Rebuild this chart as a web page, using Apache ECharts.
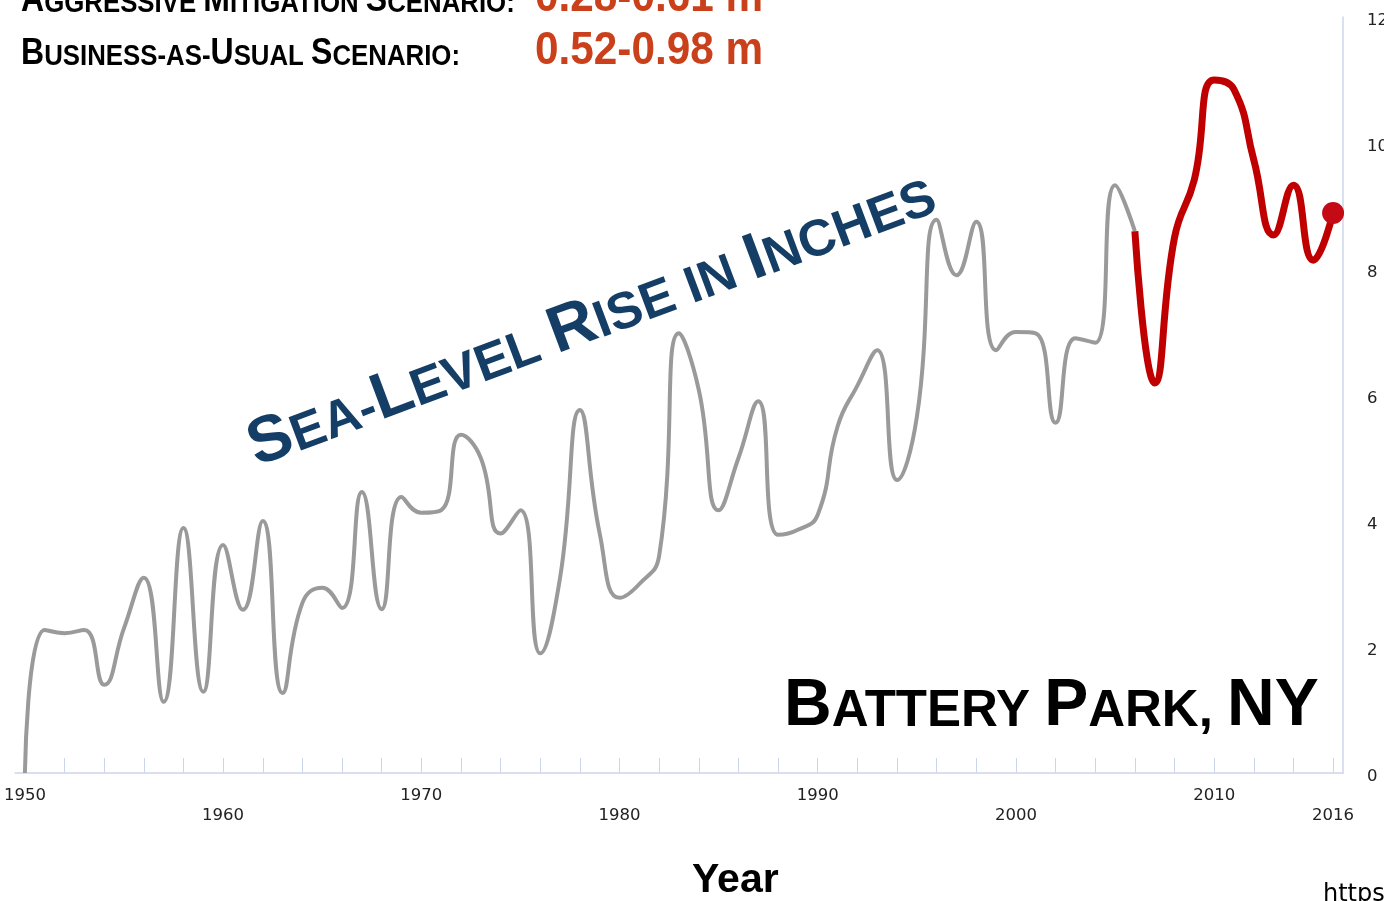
<!DOCTYPE html>
<html><head><meta charset="utf-8">
<script src="https://cdn.jsdelivr.net/npm/echarts@6/dist/echarts.min.js"></script>
<style>html,body{margin:0;padding:0;background:#fff;overflow:hidden}#chart{width:1384px;height:901px;}</style>
</head><body><div id="chart"></div>
<script>
// ---- data ----
const observedYears = [1950,1951,1952,1953,1954,1955,1956,1957,1958,1959,1960,1961,1962,1963,1964,1965,1966,1967,1968,1969,1970,1971,1972,1973,1974,1975,1976,1977,1978,1979,1980,1981,1982,1983,1984,1985,1986,1987,1988,1989,1990,1991,1992,1993,1994,1995,1996,1997,1998,1999,2000,2001,2002,2003,2004,2005,2006];
const observedInches = [0,2.27,2.22,2.27,1.4,2.3,3.1,1.13,3.89,1.29,3.62,2.59,4.0,1.27,2.7,2.94,2.62,4.46,2.6,4.38,4.13,4.17,5.37,5.0,3.8,4.17,1.9,3.1,5.76,3.8,2.78,3.0,3.45,6.98,6.08,4.17,5.0,5.9,3.78,3.86,4.1,5.5,6.15,6.71,4.65,5.65,8.78,7.9,8.75,6.71,7.0,6.98,5.56,6.9,6.83,9.33,8.6];
const recentYears = [2006,2007,2008,2009,2010,2011,2012,2013,2014,2015,2016];
const recentInches = [8.6,6.19,8.5,9.42,11.0,10.85,9.73,8.54,9.33,8.14,8.89];
const tickYears = [1950,1952,1954,1956,1958,1960,1962,1964,1966,1968,1970,1972,1974,1976,1978,1980,1982,1984,1986,1988,1990,1992,1994,1996,1998,2000,2002,2004,2006,2008,2010,2012,2014,2016];
const labelYears = [1950,1960,1970,1980,1990,2000,2010,2016];
const lowerRowYears = [1960,1980,2000,2016];
const scenarioNames = ['Aggressive Mitigation Scenario:', 'Business-as-Usual Scenario:'];
const scenarioRanges = ['0.28-0.61 m', '0.52-0.98 m'];
const chartTitle = 'Sea-Level Rise in Inches';
const placeName = 'Battery Park, NY';
const xAxisName = 'Year';
const sourceText = 'https://';

// ---- helpers ----
function smallCaps(str) {
  let out = '', cur = null, buf = '';
  for (const ch of str) {
    const t = (ch >= 'A' && ch <= 'Z') ? 'b' : 's';
    if (t !== cur) { if (buf) out += '{' + cur + '|' + buf + '}'; buf = ''; cur = t; }
    buf += ch.toUpperCase();
  }
  if (buf) out += '{' + cur + '|' + buf + '}';
  return out;
}
function scRich(B, s, fill) {
  const fam = '"Liberation Sans", Arial, sans-serif';
  return {
    b: { fontSize: B, fontWeight: 'bold', fontFamily: fam, fill: fill, verticalAlign: 'bottom' },
    s: { fontSize: s, fontWeight: 'bold', fontFamily: fam, fill: fill, verticalAlign: 'bottom', padding: [0, 0, 0.1535 * (B - s), 0] }
  };
}
function scText(str, x, y, B, s, fill, extra) {
  return Object.assign({
    type: 'text', x: x, y: y, silent: true,
    style: { text: smallCaps(str), rich: scRich(B, s, fill), align: 'left', verticalAlign: 'bottom', textAlign: 'left', textVerticalAlign: 'bottom' }
  }, extra || {});
}
function plainText(str, x, y, font, fill, extra) {
  return Object.assign({
    type: 'text', x: x, y: y, silent: true,
    style: { text: str, font: font, fill: fill, align: 'left', verticalAlign: 'bottom', textAlign: 'left', textVerticalAlign: 'bottom' }
  }, extra || {});
}

const chart = echarts.init(document.getElementById('chart'), null, { renderer: 'canvas' });
const axisColor = '#ccd6eb';
const rot = 20.6 * Math.PI / 180;

chart.setOption({
  animation: false,
  backgroundColor: '#ffffff',
  grid: { left: 15, right: 41, top: 17, bottom: 128, containLabel: false, outerBoundsMode: 'none' },
  xAxis: {
    type: 'value', min: 1949.5, max: 2016.5,
    axisLine: { show: true, lineStyle: { color: axisColor, width: 1.5 } },
    axisTick: { show: true, inside: true, length: 15, customValues: tickYears, lineStyle: { color: axisColor, width: 1 } },
    axisLabel: {
      customValues: labelYears, margin: 13, color: '#222', fontSize: 16.5,
      fontFamily: '"DejaVu Sans", sans-serif', lineHeight: 20,
      formatter: function (v) { return lowerRowYears.indexOf(v) >= 0 ? '\n' + v : String(v); }
    },
    splitLine: { show: false }
  },
  yAxis: {
    type: 'value', position: 'right', min: 0, max: 12, interval: 2,
    axisLine: { show: true, lineStyle: { color: axisColor, width: 1.5 } },
    axisTick: { show: false },
    axisLabel: { margin: 24, color: '#222', fontSize: 16.5, fontFamily: '"DejaVu Sans", sans-serif', verticalAlign: 'top', lineHeight: 8 },
    splitLine: { show: false }
  },
  series: [
    {
      type: 'line', data: observedYears.map((y, i) => [y, observedInches[i]]),
      smooth: 0.5, symbol: 'none', lineStyle: { color: '#9a9a9a', width: 4 }, z: 2
    },
    {
      type: 'line', data: recentYears.map((y, i) => [y, recentInches[i]]),
      smooth: 0.5, symbol: 'none', lineStyle: { color: '#c00000', width: 7 }, z: 3
    },
    {
      type: 'scatter', data: [[recentYears[recentYears.length - 1], recentInches[recentInches.length - 1]]],
      symbol: 'circle', symbolSize: 22, itemStyle: { color: '#c40a14', opacity: 1 }, z: 4
    }
  ],
  graphic: [
    scText(scenarioNames[0], 21, 19.5, 36, 29, '#000', { scaleX: 0.89 }),
    scText(scenarioNames[1], 21, 72.5, 36, 29, '#000', { scaleX: 0.89 }),
    plainText(scenarioRanges[0], 535, 22, 'bold 47px "Liberation Sans", Arial, sans-serif', '#c9401a', { scaleX: 0.9 }),
    plainText(scenarioRanges[1], 535, 75, 'bold 47px "Liberation Sans", Arial, sans-serif', '#c9401a', { scaleX: 0.9 }),
    scText(chartTitle, 262, 480, 65, 51.5, '#153e66', { rotation: rot }),
    scText(placeName, 784, 740, 66, 51, '#000'),
    plainText(xAxisName, 692, 901, 'bold 41px "Liberation Sans", Arial, sans-serif', '#000'),
    plainText(sourceText, 1323, 907, '24px "DejaVu Sans", sans-serif', '#000')
  ]
});
</script>
</body></html>
